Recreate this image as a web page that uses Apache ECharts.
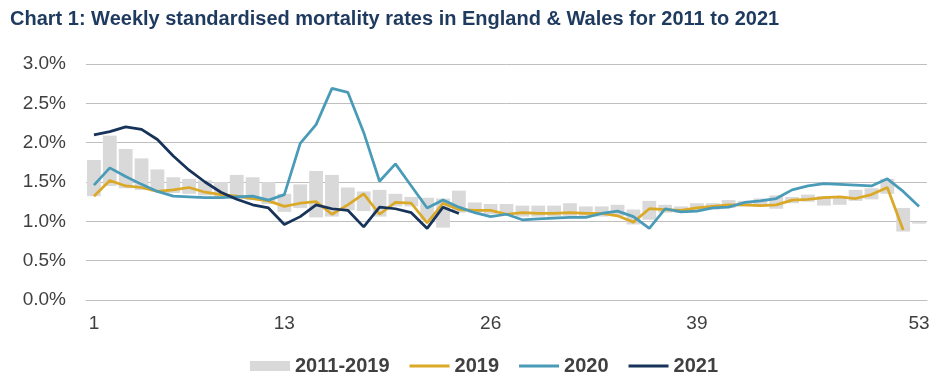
<!DOCTYPE html>
<html>
<head>
<meta charset="utf-8">
<script src="https://cdn.jsdelivr.net/npm/echarts@6/dist/echarts.min.js"></script>
<style>
  html, body { margin: 0; padding: 0; background: #fff; }
  #mainChart { width: 948px; height: 390px; }
</style>
</head>
<body>
<div id="mainChart"></div>
<script>
var weeks = [];
for (var w = 1; w <= 53; w++) weeks.push(String(w));

// 2011-2019 range (min and max), in %
var rangeLow = [1.32, 1.45, 1.42, 1.40, 1.38, 1.36, 1.35, 1.33, 1.30, 1.28,
    1.27, 1.22, 1.12, 1.17, 1.05, 1.06, 1.14, 1.13, 1.06, 1.19,
    1.19, 1.02, 0.92, 1.11, 1.11, 1.09, 1.08, 1.06, 1.06, 1.06,
    1.07, 1.07, 1.06, 1.07, 0.96, 1.02, 1.11, 1.11, 1.13, 1.15,
    1.17, 1.19, 1.19, 1.16, 1.23, 1.25, 1.20, 1.21, 1.26, 1.28,
    1.35, 0.87, 0.97];
var rangeHigh = [1.78, 2.09, 1.92, 1.80, 1.66, 1.56, 1.54, 1.52, 1.50, 1.59,
    1.56, 1.50, 1.35, 1.47, 1.64, 1.59, 1.43, 1.38, 1.40, 1.35,
    1.31, 1.30, 1.29, 1.39, 1.24, 1.22, 1.22, 1.20, 1.20, 1.20,
    1.23, 1.19, 1.19, 1.21, 1.15, 1.26, 1.21, 1.19, 1.23, 1.23,
    1.27, 1.26, 1.29, 1.33, 1.31, 1.34, 1.32, 1.32, 1.40, 1.42,
    1.54, 1.17, 0.99];

var y2019 = [1.32, 1.52, 1.45, 1.43, 1.38, 1.40, 1.43, 1.37, 1.34, 1.32,
    1.29, 1.26, 1.19, 1.23, 1.25, 1.09, 1.21, 1.35, 1.09, 1.24,
    1.23, 0.98, 1.23, 1.15, 1.14, 1.14, 1.09, 1.11, 1.10, 1.10,
    1.11, 1.10, 1.10, 1.07, 0.99, 1.16, 1.15, 1.14, 1.17, 1.19,
    1.21, 1.21, 1.20, 1.21, 1.27, 1.28, 1.30, 1.31, 1.29, 1.34,
    1.43, 0.89, null];
var y2020 = [1.46, 1.68, 1.57, 1.47, 1.38, 1.32, 1.31, 1.30, 1.30, 1.31,
    1.32, 1.27, 1.34, 1.99, 2.23, 2.69, 2.64, 2.13, 1.51, 1.73,
    1.45, 1.17, 1.27, 1.18, 1.11, 1.06, 1.09, 1.02, 1.03, 1.04,
    1.05, 1.05, 1.10, 1.13, 1.06, 0.91, 1.16, 1.12, 1.13, 1.17,
    1.18, 1.24, 1.26, 1.29, 1.40, 1.45, 1.48, 1.47, 1.46, 1.45,
    1.54, 1.38, 1.19];
var y2021 = [2.10, 2.14, 2.20, 2.17, 2.04, 1.83, 1.65, 1.50, 1.37, 1.28,
    1.21, 1.17, 0.96, 1.06, 1.21, 1.16, 1.14, 0.93, 1.18, 1.16,
    1.11, 0.91, 1.18, 1.10];

var yTicks = [0, 0.5, 1, 1.5, 2, 2.5, 3];
var xLabelWeeks = [1, 13, 26, 39, 53];

var rangeSize = [];
for (var i = 0; i < rangeLow.length; i++) {
    rangeSize.push(+(rangeHigh[i] - rangeLow[i]).toFixed(2));
}

var myChart = echarts.init(document.getElementById("mainChart"));
var font = "'Liberation Sans', Arial, sans-serif";
// thin line legend icon (tiny corner slivers keep the box 40x10)
var lineIcon = "path://M0,0H40V0.01H0Z M0,3.6H40V6.4H0Z M0,9.99H40V10H0Z";

var option = {
    animation: false,
    textStyle: { fontFamily: font },
    title: {
        text: "Chart 1: Weekly standardised mortality rates in England & Wales for 2011 to 2021",
        left: 5,
        top: 4,
        textStyle: { fontSize: 20, fontWeight: "bold", color: "#1f3a5f", fontFamily: font }
    },
    grid: { left: 86, right: 21, top: 64, bottom: 90 },
    legend: {
        data: [
            { name: "2011-2019", icon: "rect" },
            { name: "2019", icon: lineIcon },
            { name: "2020", icon: lineIcon },
            { name: "2021", icon: lineIcon }
        ],
        top: 351,
        left: 245,
        itemWidth: 40,
        itemHeight: 10,
        itemGap: 20,
        textStyle: { fontSize: 20, fontWeight: "bold", color: "#404040", fontFamily: font }
    },
    xAxis: {
        type: "category",
        data: weeks,
        axisTick: { show: false },
        axisLine: { lineStyle: { color: "#bfbfbf" } },
        axisLabel: {
            interval: function (idx) { return xLabelWeeks.indexOf(idx + 1) >= 0; },
            fontSize: 19,
            color: "#404040",
            margin: 14
        }
    },
    yAxis: {
        type: "value",
        min: yTicks[0],
        max: yTicks[yTicks.length - 1],
        interval: 0.5,
        axisLine: { show: false },
        axisTick: { show: false },
        splitLine: { lineStyle: { color: "#bfbfbf", width: 1 } },
        axisLabel: {
            fontSize: 19,
            color: "#404040",
            margin: 20,
            formatter: function (v) { return v.toFixed(1) + "%"; }
        }
    },
    series: [
        {
            name: "base",
            type: "bar",
            stack: "range",
            data: rangeLow,
            itemStyle: { color: "transparent" },
            barCategoryGap: "13%",
            silent: true
        },
        {
            name: "2011-2019",
            type: "bar",
            stack: "range",
            data: rangeSize,
            itemStyle: { color: "#d9d9d9" },
            barCategoryGap: "13%"
        },
        {
            name: "2019",
            type: "line",
            data: y2019,
            symbol: "none",
            lineStyle: { color: "#dba928", width: 2.75 },
            itemStyle: { color: "#dba928" }
        },
        {
            name: "2020",
            type: "line",
            data: y2020,
            symbol: "none",
            lineStyle: { color: "#4a9bb8", width: 2.75 },
            itemStyle: { color: "#4a9bb8" }
        },
        {
            name: "2021",
            type: "line",
            data: y2021,
            symbol: "none",
            lineStyle: { color: "#17335a", width: 2.75 },
            itemStyle: { color: "#17335a" }
        }
    ]
};

myChart.setOption(option);
</script>
</body>
</html>
